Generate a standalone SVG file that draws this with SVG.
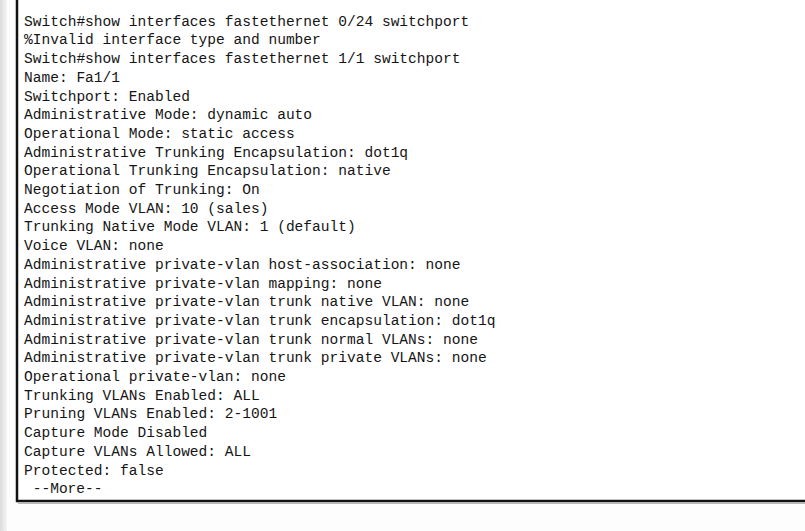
<svg xmlns="http://www.w3.org/2000/svg" width="805" height="531" viewBox="0 0 805 531">
<style>
.t{font-family:"Liberation Mono","Courier New",monospace;font-size:14.55px;fill:#151515}
</style>
<defs>
<linearGradient id="strip" x1="0" y1="0" x2="1" y2="0">
<stop offset="0" stop-color="#dcdcdc"/>
<stop offset="1" stop-color="#f4f4f4"/>
</linearGradient>
</defs>
<rect x="0" y="0" width="805" height="531" fill="#fdfdfd"/>
<rect x="0" y="0" width="7" height="531" fill="url(#strip)"/>
<rect x="17" y="-10" width="800" height="511" fill="#ffffff" stroke="#111111" stroke-width="2.5"/>
<line x1="18" y1="503.2" x2="805" y2="503.2" stroke="#9a9a9a" stroke-width="1"/>
<g id="terminal" class="t">
<text x="24" y="25.7">Switch#show interfaces fastethernet 0/24 switchport</text>
<text x="24" y="44.4">%Invalid interface type and number</text>
<text x="24" y="63.1">Switch#show interfaces fastethernet 1/1 switchport</text>
<text x="24" y="81.8">Name: Fa1/1</text>
<text x="24" y="100.5">Switchport: Enabled</text>
<text x="24" y="119.2">Administrative Mode: dynamic auto</text>
<text x="24" y="137.9">Operational Mode: static access</text>
<text x="24" y="156.6">Administrative Trunking Encapsulation: dot1q</text>
<text x="24" y="175.3">Operational Trunking Encapsulation: native</text>
<text x="24" y="194.0">Negotiation of Trunking: On</text>
<text x="24" y="212.7">Access Mode VLAN: 10 (sales)</text>
<text x="24" y="231.4">Trunking Native Mode VLAN: 1 (default)</text>
<text x="24" y="250.1">Voice VLAN: none</text>
<text x="24" y="268.8">Administrative private-vlan host-association: none</text>
<text x="24" y="287.5">Administrative private-vlan mapping: none</text>
<text x="24" y="306.2">Administrative private-vlan trunk native VLAN: none</text>
<text x="24" y="324.9">Administrative private-vlan trunk encapsulation: dot1q</text>
<text x="24" y="343.6">Administrative private-vlan trunk normal VLANs: none</text>
<text x="24" y="362.3">Administrative private-vlan trunk private VLANs: none</text>
<text x="24" y="381.0">Operational private-vlan: none</text>
<text x="24" y="399.7">Trunking VLANs Enabled: ALL</text>
<text x="24" y="418.4">Pruning VLANs Enabled: 2-1001</text>
<text x="24" y="437.1">Capture Mode Disabled</text>
<text x="24" y="455.8">Capture VLANs Allowed: ALL</text>
<text x="24" y="474.5">Protected: false</text>
<text x="32.7" y="493.2">--More--</text>
</g>
</svg>
